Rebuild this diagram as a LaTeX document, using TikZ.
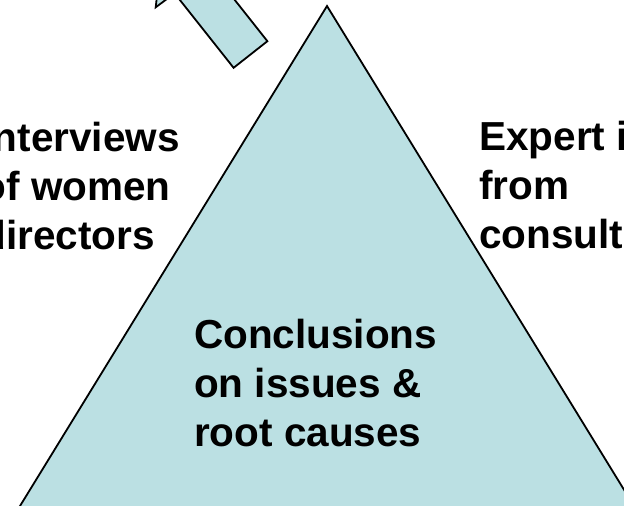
\documentclass[tikz,border=0pt]{standalone}
\usepackage{fontspec}
\setmainfont{Liberation Sans}
\definecolor{pyrfill}{RGB}{187,224,227}

\begin{document}
\begin{tikzpicture}[
    x=1pt,y=-1pt,
    shapebox/.style={draw=black,fill=pyrfill,line width=1.8pt,line join=miter},
    bigtext/.style={font=\fontsize{40.5}{49}\selectfont\bfseries,align=left,
      inner sep=0pt,anchor=base west}
  ]
    \useasboundingbox (0,0) rectangle (624,506);
    \clip (0,0) rectangle (624,506);

    % pyramid, base runs off the page
    \coordinate (apex) at (327,6);
    \coordinate (baseL) at (11.4,520);
    \coordinate (baseR) at (642.6,520);
    \draw[shapebox] (apex) -- (baseR) -- (baseL) -- cycle;

    % block arrow leaving the top corner
    \draw[shapebox] (233.6,67.8) -- (174.6,-6.7) -- (155.7,7.3) -- (163,-56)
      -- (226.4,-48.7) -- (207.9,-34) -- (267.4,41.2) -- cycle;

    % base anchor sits on the last line
    \node[bigtext] (concl) at (194,446) {Conclusions\\on issues \&\\root causes};
    \node[bigtext] (women) at (-18.5,249) {Interviews\\of women\\directors};
    \node[bigtext] (expert) at (479,248.5) {Expert i\\from\\consult};
  \end{tikzpicture}
\end{document}
